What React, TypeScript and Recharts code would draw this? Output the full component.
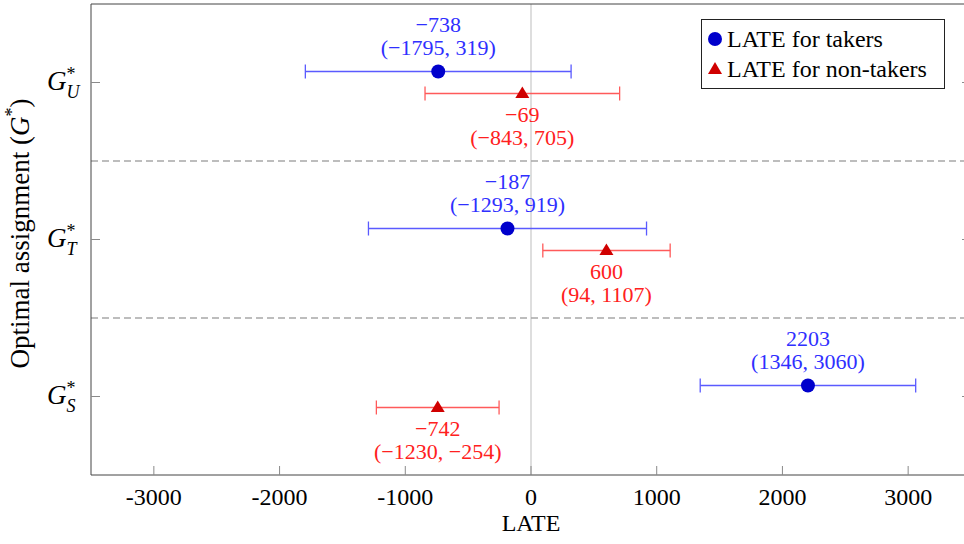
import React from 'react';
import {
  ScatterChart, Scatter, XAxis, YAxis, ErrorBar, ReferenceLine, Legend, Label,
} from 'recharts';

// ---- data ----
const groups = ['U', 'T', 'S'];
const groupRows = [3, 2, 1];
const takersEst = [-738, -187, 2203];
const takersLo = [-1795, -1293, 1346];
const takersHi = [319, 919, 3060];
const nonEst = [-69, 600, -742];
const nonLo = [-843, 94, -1230];
const nonHi = [705, 1107, -254];
const xTicks = [-3000, -2000, -1000, 0, 1000, 2000, 3000];
const yTicks = [1, 2, 3];
const separators = [1.5, 2.5];
const seriesNames = ['LATE for takers', 'LATE for non-takers'];

const ROW_SHIFT = 0.07;
const SERIF = 'Liberation Serif';
const BLUE_MARK = '#0000cc';
const BLUE_LINE = '#5a5aff';
const BLUE_TEXT = '#2f2fff';
const RED_MARK = '#d00000';
const RED_LINE = '#ff5a5a';
const RED_TEXT = '#ff2020';

const fmt = (v: number) => (v < 0 ? '\u2212' + Math.abs(v) : String(v));

const takersData = groupRows.map((r, i) => ({
  x: takersEst[i], y: r + ROW_SHIFT, lo: takersLo[i], hi: takersHi[i],
  err: [takersEst[i] - takersLo[i], takersHi[i] - takersEst[i]],
}));
const nonData = groupRows.map((r, i) => ({
  x: nonEst[i], y: r - ROW_SHIFT, lo: nonLo[i], hi: nonHi[i],
  err: [nonEst[i] - nonLo[i], nonHi[i] - nonEst[i]],
}));

const TakerShape = (props: any) => {
  const { cx, cy, payload } = props;
  return (
    <g>
      <circle cx={cx} cy={cy} r={7} fill={BLUE_MARK} />
      <text x={cx} y={cy - 40} textAnchor="middle" fill={BLUE_TEXT} fontFamily={SERIF} fontSize={22}>{fmt(payload.x)}</text>
      <text x={cx} y={cy - 17} textAnchor="middle" fill={BLUE_TEXT} fontFamily={SERIF} fontSize={22}>{`(${fmt(payload.lo)},  ${fmt(payload.hi)})`}</text>
    </g>
  );
};

const NonShape = (props: any) => {
  const { cx, cy, payload } = props;
  return (
    <g>
      <polygon points={`${cx},${cy - 7} ${cx - 7},${cy + 4.5} ${cx + 7},${cy + 4.5}`} fill={RED_MARK} />
      <text x={cx} y={cy + 29} textAnchor="middle" fill={RED_TEXT} fontFamily={SERIF} fontSize={22}>{fmt(payload.x)}</text>
      <text x={cx} y={cy + 52} textAnchor="middle" fill={RED_TEXT} fontFamily={SERIF} fontSize={22}>{`(${fmt(payload.lo)},  ${fmt(payload.hi)})`}</text>
    </g>
  );
};

const BottomTick = (props: any) => {
  const { x, y, payload } = props;
  return (
    <g>
      <line x1={x} y1={y} x2={x} y2={y - 9} stroke="#8a8a8a" />
      <text x={x} y={y + 30} textAnchor="middle" fill="#000" fontFamily={SERIF} fontSize={24}>{String(payload.value)}</text>
    </g>
  );
};

const LeftTick = (props: any) => {
  const { x, y, payload } = props;
  const idx = groupRows.indexOf(payload.value);
  const g = idx >= 0 ? groups[idx] : '';
  return (
    <g>
      <line x1={x} y1={y} x2={x + 9} y2={y} stroke="#8a8a8a" />
      <text x={x - 44} y={y + 7} textAnchor="start" fill="#000" fontFamily={SERIF} fontSize={27}>
        <tspan fontStyle="italic">G</tspan>
        <tspan fontSize={18} dy={-10}>*</tspan>
        <tspan fontSize={18} fontStyle="italic" dx={-9} dy={18}>{g}</tspan>
      </text>
    </g>
  );
};

const LegendBox = () => (
  <svg width={244} height={70} style={{ display: 'block' }}>
    <rect x={0.5} y={0.5} width={243} height={69} fill="#fff" stroke="#222" />
    <circle cx={14} cy={20} r={7} fill={BLUE_MARK} />
    <text x={26} y={28} fontFamily={SERIF} fontSize={24} fill="#000">{seriesNames[0]}</text>
    <polygon points={`14,${43} 7,${55} 21,${55}`} fill={RED_MARK} />
    <text x={26} y={58} fontFamily={SERIF} fontSize={24} fill="#000">{seriesNames[1]}</text>
  </svg>
);

export default function App() {
  return (
    <div style={{ position: 'absolute', left: 0, top: 0, width: 964, height: 544, overflow: 'hidden', background: '#fff' }}>
      <ScatterChart width={972} height={544} margin={{ top: 4, right: 1, bottom: 9, left: 31 }}>
        <XAxis xAxisId="b" type="number" dataKey="x" domain={[-3500, 3500]} ticks={xTicks}
          allowDataOverflow tick={<BottomTick />} tickLine={false} tickSize={0} tickMargin={0}
          height={60} axisLine={{ stroke: '#444' }} interval={0}>
          <Label content={(p: any) => {
            const vb = p.viewBox;
            return <text x={vb.x + (531 - 91)} y={vb.y + 56} textAnchor="middle" fontFamily={SERIF} fontSize={24} fill="#000">LATE</text>;
          }} />
        </XAxis>
        <XAxis xAxisId="t" orientation="top" type="number" domain={[-3500, 3500]} ticks={xTicks}
          allowDataOverflow mirror tickSize={9} tickFormatter={() => ''} height={1}
          axisLine={{ stroke: '#444' }} tickLine={{ stroke: '#8a8a8a' }} interval={0} />
        <YAxis yAxisId="l" type="number" dataKey="y" domain={[0.5, 3.5]} ticks={yTicks}
          allowDataOverflow tick={<LeftTick />} tickLine={false} tickSize={0} tickMargin={0}
          width={60} axisLine={{ stroke: '#444' }} interval={0}>
          <Label content={(p: any) => {
            const vb = p.viewBox;
            const cx = 20;
            const cy = vb.y + vb.height / 2 - 6;
            return (
              <text x={cx} y={cy} transform={`rotate(-90, ${cx}, ${cy})`} textAnchor="middle" dominantBaseline="central"
                fontFamily={SERIF} fontSize={27} fill="#000">
                Optimal assignment (<tspan fontStyle="italic">G</tspan><tspan fontSize={18} dy={-8}>*</tspan><tspan dy={8}>)</tspan>
              </text>
            );
          }} />
        </YAxis>
        <YAxis yAxisId="r" orientation="right" type="number" domain={[0.5, 3.5]} ticks={yTicks}
          allowDataOverflow mirror tickSize={9} tickFormatter={() => ''} width={1}
          axisLine={{ stroke: '#444' }} tickLine={{ stroke: '#8a8a8a' }} interval={0} />
        <ReferenceLine xAxisId="b" yAxisId="l" x={0} stroke="#c8c8c8" strokeWidth={1.2} />
        {separators.map((s) => (
          <ReferenceLine key={s} xAxisId="b" yAxisId="l" y={s} stroke="#a8a8a8" strokeWidth={1.3} strokeDasharray="7 4" />
        ))}
        <Scatter name={seriesNames[0]} data={takersData} xAxisId="b" yAxisId="l" isAnimationActive={false} shape={<TakerShape />}>
          <ErrorBar dataKey="err" direction="x" width={7} stroke={BLUE_LINE} strokeWidth={1.3} />
        </Scatter>
        <Scatter name={seriesNames[1]} data={nonData} xAxisId="b" yAxisId="l" isAnimationActive={false} shape={<NonShape />}>
          <ErrorBar dataKey="err" direction="x" width={7} stroke={RED_LINE} strokeWidth={1.3} />
        </Scatter>
        <Legend layout="vertical" align="center" verticalAlign="middle" content={() => <LegendBox />}
          wrapperStyle={{ position: 'absolute', left: 701, top: 19, width: 244, height: 70 }} />
      </ScatterChart>
    </div>
  );
}
